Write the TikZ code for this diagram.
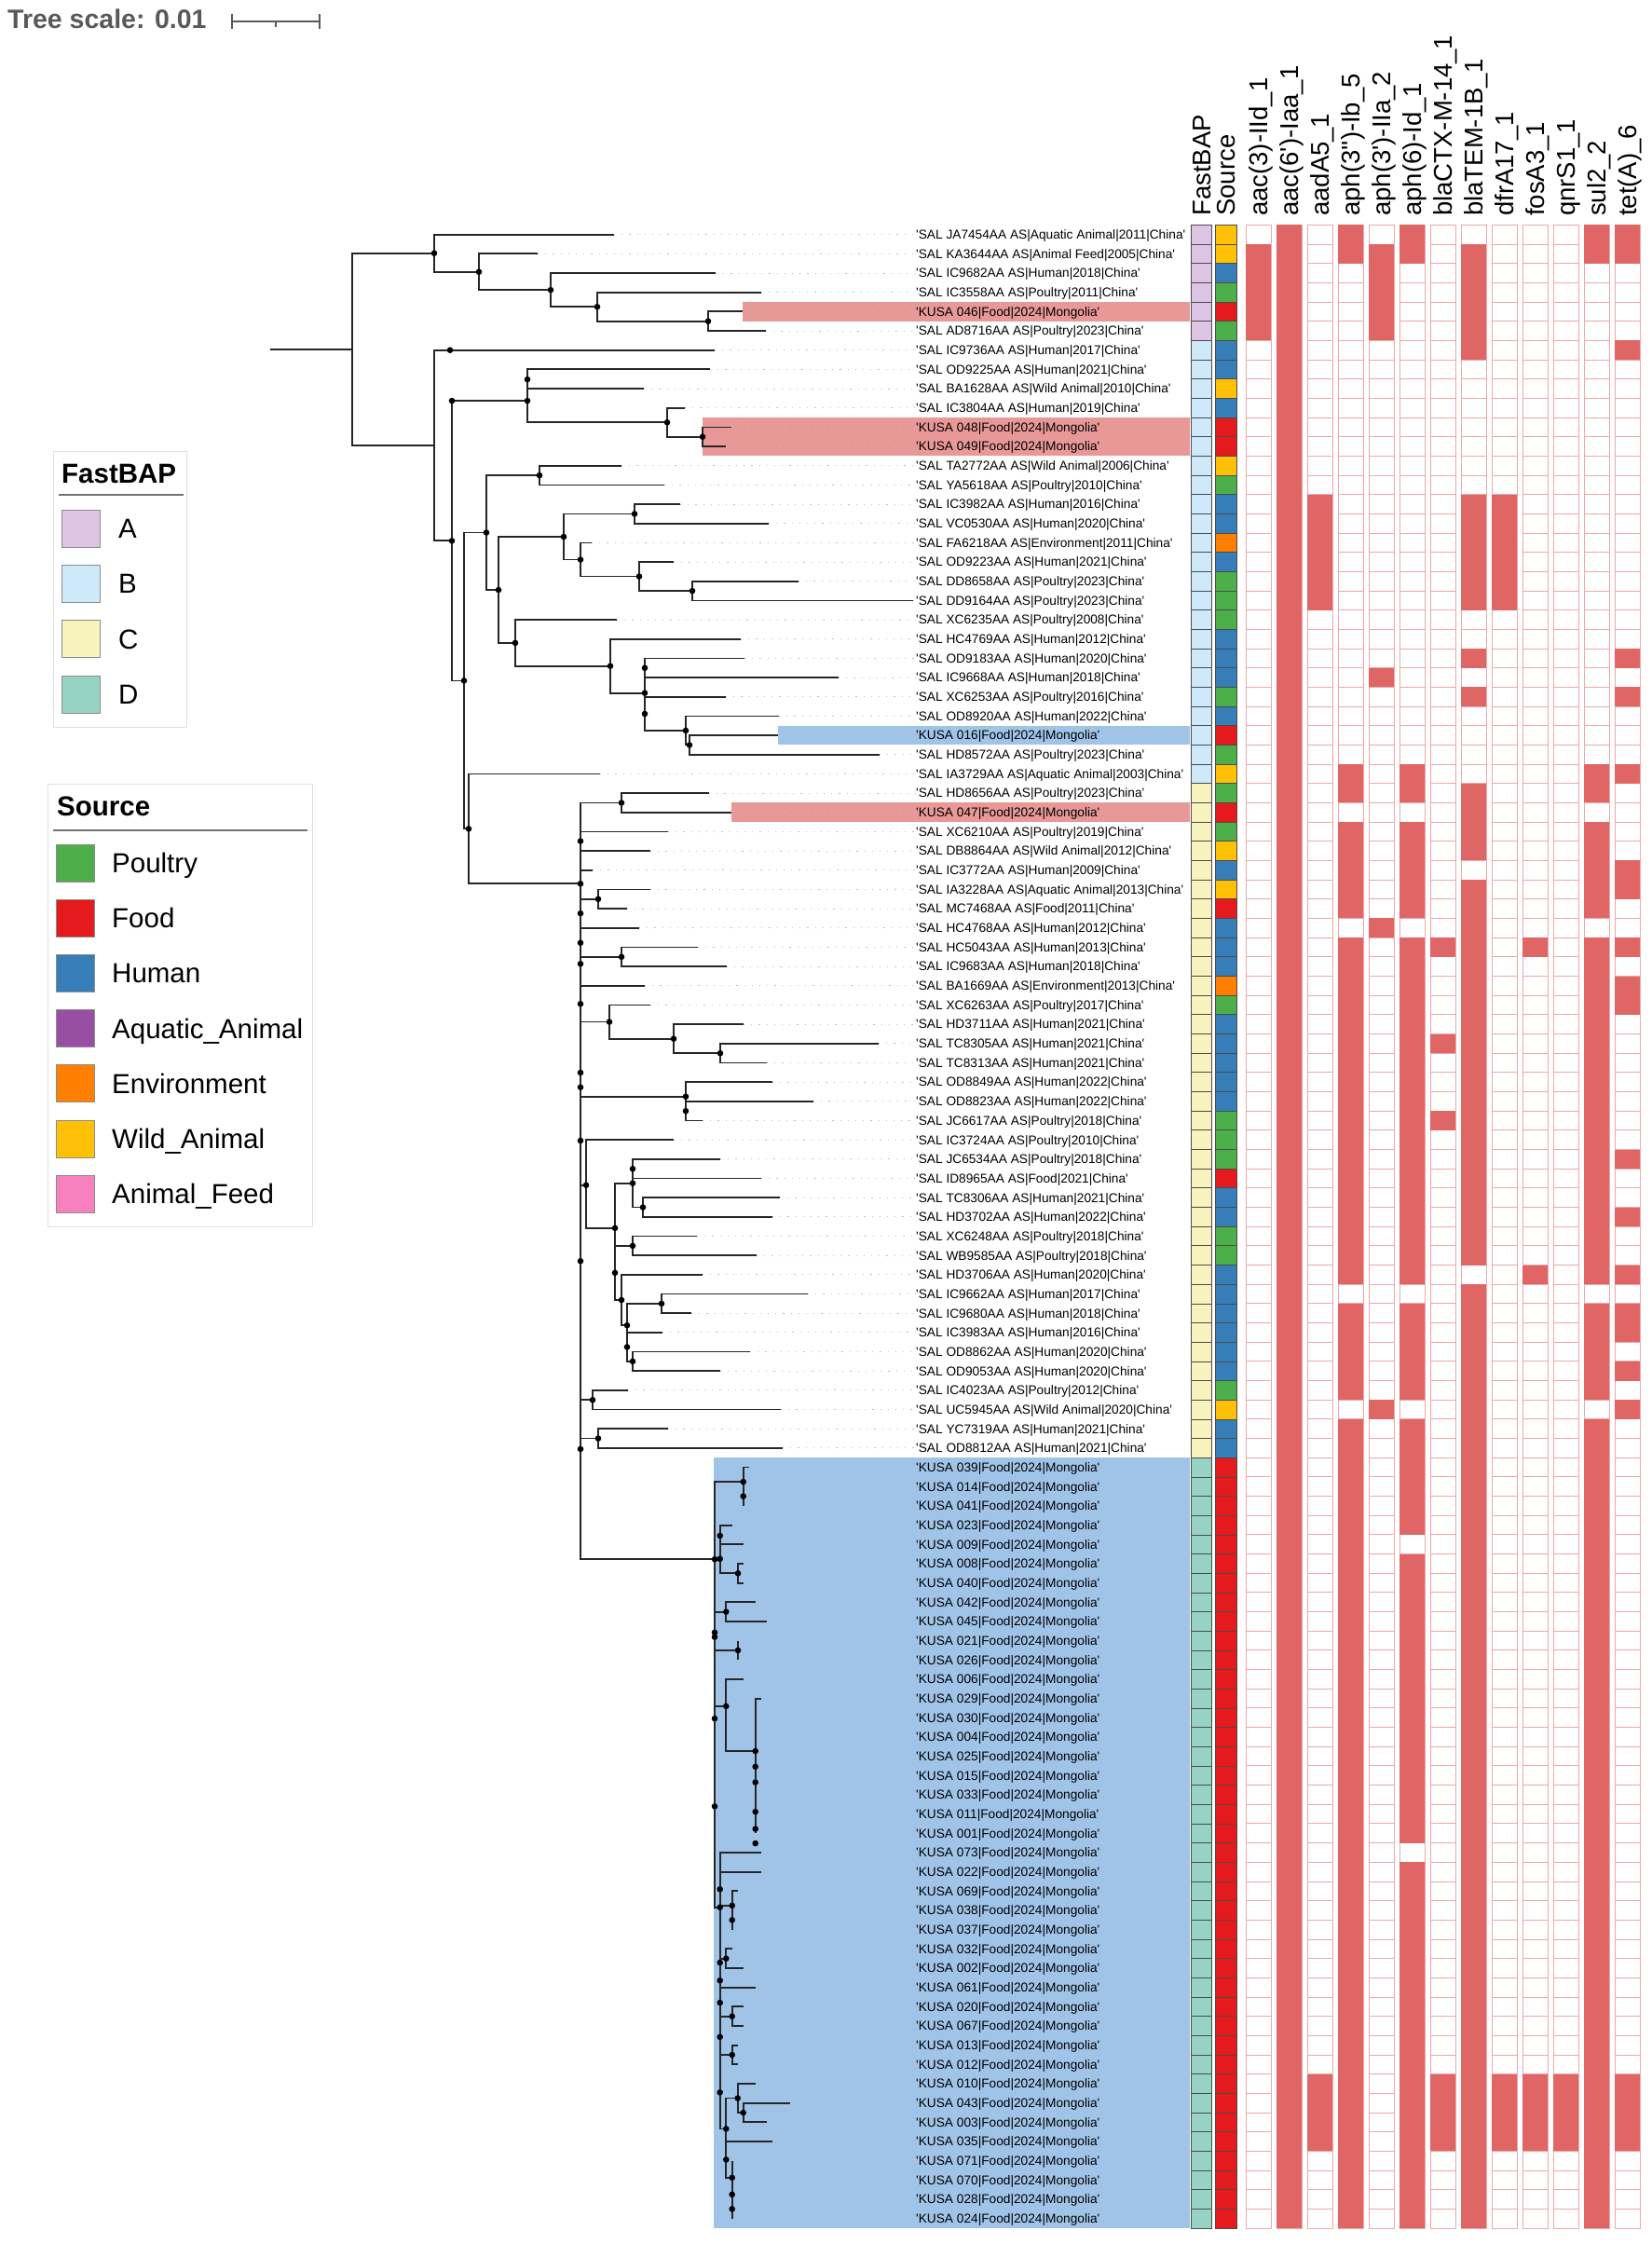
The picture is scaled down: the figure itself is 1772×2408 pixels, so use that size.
\documentclass[tikz,border=0pt]{standalone}
\usepackage{fontspec}
\setmainfont{Liberation Sans}
\newcommand\q{\textquotesingle}
% FastBAP groups
\definecolor{fbA}{RGB}{222,196,228}
\definecolor{fbB}{RGB}{206,233,250}
\definecolor{fbC}{RGB}{247,242,190}
\definecolor{fbD}{RGB}{150,211,196}
% sources
\definecolor{srcP}{RGB}{77,175,74}
\definecolor{srcF}{RGB}{228,26,28}
\definecolor{srcH}{RGB}{55,126,184}
\definecolor{srcQ}{RGB}{152,78,163}
\definecolor{srcO}{RGB}{255,127,0}
\definecolor{srcW}{RGB}{255,193,7}
\definecolor{srcA}{RGB}{247,129,191}
% heatmap and highlights
\definecolor{hmred}{RGB}{224,102,102}
\definecolor{hmline}{RGB}{236,168,168}
\definecolor{hlpink}{RGB}{233,152,152}
\definecolor{hlblue}{RGB}{160,196,232}

\begin{document}
\begin{tikzpicture}[x=1pt, y=-1pt,
  branch/.style={draw=black!85, line width=1.8pt},
  leader/.style={draw=black!25, line width=0.9pt, dash pattern=on 1.2pt off 7pt},
  cell/.style={draw=hmline, line width=1pt, fill=white},
  hit/.style={fill=hmred},
  anno/.style={draw=black!70, line width=0.8pt},
  lab/.style={anchor=base west, inner sep=0pt, yshift=-4.8pt, font=\fontsize{13.7}{16}\selectfont},
  head/.style={rotate=90, anchor=base west, inner sep=0pt, font=\fontsize{27.5}{30}\selectfont},
  legtxt/.style={anchor=base west, inner sep=0pt, font=\fontsize{29.5}{32}\selectfont},
  legtitle/.style={anchor=base west, inner sep=0pt, font=\bfseries\fontsize{29.5}{32}\selectfont},
  legbox/.style={draw=black!12, line width=1pt, fill=white},
  legsq/.style={draw=black!45, line width=0.8pt}]
\useasboundingbox (0,0) rectangle (1772,2408);
\fill[white] (0,0) rectangle (1772,2408);

% Tree scale
\node[anchor=base west, inner sep=0pt, text=black!65, font=\bfseries\fontsize{28.5}{30}\selectfont] (tscale) at (8,31) {Tree scale: 0.01};
\coordinate (sbl) at (249,23);
\coordinate (sbr) at (343,23);
\draw[black!65, line width=2pt] (sbl) -- (sbr);
\draw[black!65, line width=2pt] (249,15) -- (249,31) (343,15) -- (343,31) (296,23) -- (296,29);

% FastBAP legend
\draw[legbox] (57,484) rectangle (200,780);
\node[legtitle] (fbtitle) at (66,518) {FastBAP};
\draw[black!55, line width=1.5pt] (63,531) -- (197,531);
\foreach \g [count=\i] in {A,B,C,D} {
  \draw[legsq, fill=fb\g] (66,{487.6+59.4*\i}) rectangle +(41,40);
  \node[legtxt] (fbl\i) at (127,{518.1+59.4*\i}) {\g};
}

% Source legend
\draw[legbox] (51,841) rectangle (335,1316);
\node[legtitle] (srctitle) at (61,875) {Source};
\draw[black!55, line width=1.5pt] (57,891) -- (330,891);
\foreach \cc/\t [count=\i] in {P/Poultry, F/Food, H/Human, Q/Aquatic\_Animal, O/Environment, W/Wild\_Animal, A/Animal\_Feed} {
  \draw[legsq, fill=src\cc] (60,{846.8+59.2*\i}) rectangle +(41,40);
  \node[legtxt] (srl\i) at (120,{877.3+59.2*\i}) {\t};
}

% Column headers
\node[head] (hdfb) at (1299,232) {FastBAP};
\node[head] (hdsrc) at (1325,232) {Source};
\foreach \g [count=\i from 0] in {aac(3)-IId\_1, aac(6\q)-Iaa\_1, aadA5\_1, aph(3\q\q)-Ib\_5, aph(3\q)-IIa\_2, aph(6)-Id\_1, blaCTX-M-14\_1, blaTEM-1B\_1, dfrA17\_1, fosA3\_1, qnrS1\_1, sul2\_2, tet(A)\_6}
  \node[head] (hd\i) at ({1360.5+33*\i},232) {\g};

\begin{scope}[yshift=-231.03pt, y=-20.67pt]
% Clade highlights
\fill[hlpink] (797,4.5) rectangle (1277,5.5);
\fill[hlpink] (754,10.5) rectangle (1277,12.5);
\fill[hlblue] (835,26.5) rectangle (1277,27.5);
\fill[hlpink] (785,30.5) rectangle (1277,31.5);
\fill[hlblue] (766,64.5) rectangle (1277,104.5);

% Leaves, labels and annotation strips
\foreach \tx/\fb/\src/\lab [count=\row] in {
  659/A/W/SAL JA7454AA AS|Aquatic Animal|2011|China,
  577/A/W/SAL KA3644AA AS|Animal Feed|2005|China,
  768/A/H/SAL IC9682AA AS|Human|2018|China,
  817/A/P/SAL IC3558AA AS|Poultry|2011|China,
  797/A/F/KUSA 046|Food|2024|Mongolia,
  822/A/P/SAL AD8716AA AS|Poultry|2023|China,
  767/B/H/SAL IC9736AA AS|Human|2017|China,
  762/B/H/SAL OD9225AA AS|Human|2021|China,
  691/B/W/SAL BA1628AA AS|Wild Animal|2010|China,
  735/B/H/SAL IC3804AA AS|Human|2019|China,
  785/B/F/KUSA 048|Food|2024|Mongolia,
  779/B/F/KUSA 049|Food|2024|Mongolia,
  667/B/W/SAL TA2772AA AS|Wild Animal|2006|China,
  713/B/P/SAL YA5618AA AS|Poultry|2010|China,
  730/B/H/SAL IC3982AA AS|Human|2016|China,
  825/B/H/SAL VC0530AA AS|Human|2020|China,
  635/B/O/SAL FA6218AA AS|Environment|2011|China,
  723/B/H/SAL OD9223AA AS|Human|2021|China,
  857/B/P/SAL DD8658AA AS|Poultry|2023|China,
  980/B/P/SAL DD9164AA AS|Poultry|2023|China,
  662/B/P/SAL XC6235AA AS|Poultry|2008|China,
  795/B/H/SAL HC4769AA AS|Human|2012|China,
  799/B/H/SAL OD9183AA AS|Human|2020|China,
  900/B/H/SAL IC9668AA AS|Human|2018|China,
  779/B/P/SAL XC6253AA AS|Poultry|2016|China,
  836/B/H/SAL OD8920AA AS|Human|2022|China,
  835/B/F/KUSA 016|Food|2024|Mongolia,
  944/B/P/SAL HD8572AA AS|Poultry|2023|China,
  644/B/W/SAL IA3729AA AS|Aquatic Animal|2003|China,
  761/C/P/SAL HD8656AA AS|Poultry|2023|China,
  785/C/F/KUSA 047|Food|2024|Mongolia,
  717/C/P/SAL XC6210AA AS|Poultry|2019|China,
  698/C/W/SAL DB8864AA AS|Wild Animal|2012|China,
  636/C/H/SAL IC3772AA AS|Human|2009|China,
  698/C/W/SAL IA3228AA AS|Aquatic Animal|2013|China,
  673/C/F/SAL MC7468AA AS|Food|2011|China,
  686/C/H/SAL HC4768AA AS|Human|2012|China,
  749/C/H/SAL HC5043AA AS|Human|2013|China,
  780/C/H/SAL IC9683AA AS|Human|2018|China,
  692/C/O/SAL BA1669AA AS|Environment|2013|China,
  698/C/P/SAL XC6263AA AS|Poultry|2017|China,
  798/C/H/SAL HD3711AA AS|Human|2021|China,
  943/C/H/SAL TC8305AA AS|Human|2021|China,
  823/C/H/SAL TC8313AA AS|Human|2021|China,
  829/C/H/SAL OD8849AA AS|Human|2022|China,
  873/C/H/SAL OD8823AA AS|Human|2022|China,
  754/C/P/SAL JC6617AA AS|Poultry|2018|China,
  723/C/P/SAL IC3724AA AS|Poultry|2010|China,
  773/C/P/SAL JC6534AA AS|Poultry|2018|China,
  817/C/F/SAL ID8965AA AS|Food|2021|China,
  837/C/H/SAL TC8306AA AS|Human|2021|China,
  829/C/H/SAL HD3702AA AS|Human|2022|China,
  748/C/P/SAL XC6248AA AS|Poultry|2018|China,
  812/C/P/SAL WB9585AA AS|Poultry|2018|China,
  754/C/H/SAL HD3706AA AS|Human|2020|China,
  867/C/H/SAL IC9662AA AS|Human|2017|China,
  742/C/H/SAL IC9680AA AS|Human|2018|China,
  711/C/H/SAL IC3983AA AS|Human|2016|China,
  805/C/H/SAL OD8862AA AS|Human|2020|China,
  773/C/H/SAL OD9053AA AS|Human|2020|China,
  674/C/P/SAL IC4023AA AS|Poultry|2012|China,
  838/C/W/SAL UC5945AA AS|Wild Animal|2020|China,
  717/C/H/SAL YC7319AA AS|Human|2021|China,
  840/C/H/SAL OD8812AA AS|Human|2021|China} {
  \coordinate (l\row) at (\tx,\row);
  \coordinate (lp\row) at (983,\row);
  \draw[leader] (l\row) -- (lp\row);
  \node[lab] (lab\row) at (lp\row) {\q\lab\q};
  \draw[anno, fill=fb\fb] (1278,{\row-0.5}) rectangle (1300,{\row+0.5});
  \draw[anno, fill=src\src] (1304,{\row-0.5}) rectangle (1327,{\row+0.5});
}
\foreach \tx/\kid [count=\row from 65] in {
  804/039, 797.7/014, 797.7/041, 786/023, 798.3/009, 797.7/008, 797.7/040, 810.7/042,
  823.3/045, 792/021, 792/026, 798.3/006, 816.7/029, 810.7/030, 810.7/004, 810.7/025,
  810.7/015, 810.7/033, 810.7/011, 810.7/001, 816.7/073, 816.7/022, 791.7/069, 785.7/038,
  785.7/037, 785.7/032, 798.3/002, 810.7/061, 798.3/020, 798.3/067, 791.7/013, 791.7/012,
  810.7/010, 847.7/043, 823.3/003, 829.3/035, 785.7/071, 785.7/070, 785.7/028, 785.7/024} {
  \coordinate (l\row) at (\tx,\row);
  \coordinate (lp\row) at (983,\row);
  \draw[leader] (l\row) -- (lp\row);
  \node[lab] (lab\row) at (lp\row) {\q KUSA \kid|Food|2024|Mongolia\q};
  \draw[anno, fill=fbD] (1278,{\row-0.5}) rectangle (1300,{\row+0.5});
  \draw[anno, fill=srcF] (1304,{\row-0.5}) rectangle (1327,{\row+0.5});
}

% Internal nodes (x, row)
\foreach \n/\x/\rw in {
  a4/760/5.5, a3/641/4.75, a2/591/3.875, a1/514/2.94, a0/466/1.97,
  n1c2/754/11.5, n1c/716/10.75, n1/566/9.63,
  p13/579/13.5, r1/681/15.5, r3b/743/19.5, r3/686/18.75, r2/623/17.875, rr/605/16.69,
  w/740/27.5, v/736/26.75, u/692/24.8, t/655/23.4, s/553/22.2, q/535/19.45, p/522/16.47,
  c1/667/30.5, c5/642/35.5, c7/667/38.5, c9c/773/43.5, c9b/723/42.75, c9/654/41.875,
  c10b/736/46.5, c10/736/45.75,
  z2a3/690/51.5, z2a/679/50.25, z2b/679/53.5, nb2/679/59.5, nb/673/58.75, na1/710/56.5,
  na/673/57.625, z2c/667/56.31, z2p/660/54.9, z2/660/52.58, z/629/50.35,
  c12/636/61.5, c13/642/63.5,
  d1p/797.7/66.5, d1/797.7/65.75, d2n/792/70.5, d2/772.7/69.75, d3/779.3/72.5,
  d4/792/74.5, e/810.7/79.73, d5/779.3/77.4,
  f1p/785.7/88.5, f1/785.7/87.75, k90/779.3/90.5, k93/785.7/93.5, k95/785.7/95.5,
  g1b/797.7/98.5, g1/791.7/97.75, h3/785.7/103.5, h2/785.7/102.75, h1/785.7/101.875,
  g2/779.3/100.94, g/779.3/99.34, k/772.7/87.84,
  droot/767/69.77, spn/623/34.7, nx/503/31.85, n2/498/24.16, m/485/16.9,
  lb/466/11.95, root/378/6.96, stub/290/6.96}
  \coordinate (\n) at (\x,\rw);

% Branches
\draw[branch] (stub) -- (root);
\foreach \pa/\ch in {
  root/a0, root/lb,
  a0/l1, a0/a1, a1/l2, a1/a2, a2/l3, a2/a3, a3/l4, a3/a4, a4/l5, a4/l6,
  lb/l7, lb/m, m/n1, m/n2,
  n1/l8, n1/l9, n1/n1c, n1c/l10, n1c/n1c2, n1c2/l11, n1c2/l12,
  n2/p, n2/nx, p/p13, p/q, p13/l13, p13/l14,
  q/rr, q/s, rr/r1, rr/r2, r1/l15, r1/l16, r2/l17, r2/r3, r3/l18, r3/r3b, r3b/l19, r3b/l20,
  s/l21, s/t, t/l22, t/u, u/l23, u/l24, u/l25, u/v, v/l26, v/w, w/l27, w/l28,
  nx/l29, nx/spn,
  spn/c1, spn/l32, spn/l33, spn/l34, spn/c5, spn/l37, spn/c7, spn/l40, spn/c9, spn/c10,
  spn/z, spn/c12, spn/c13, spn/droot,
  c1/l30, c1/l31, c5/l35, c5/l36, c7/l38, c7/l39,
  c9/l41, c9/c9b, c9b/l42, c9b/c9c, c9c/l43, c9c/l44,
  c10/l45, c10/c10b, c10b/l46, c10b/l47,
  z/l48, z/z2, z2/z2a, z2/z2p, z2a/l49, z2a/l50, z2a/z2a3, z2a3/l51, z2a3/l52,
  z2p/z2b, z2p/z2c, z2b/l53, z2b/l54, z2c/l55, z2c/na, na/na1, na/nb,
  na1/l56, na1/l57, nb/l58, nb/nb2, nb2/l59, nb2/l60,
  c12/l61, c12/l62, c13/l63, c13/l64,
  droot/d1, droot/d2, droot/d3, droot/d4, droot/d5, droot/k,
  d1/l65, d1/d1p, d1p/l66, d1p/l67,
  d2/l68, d2/l69, d2/d2n, d2n/l70, d2n/l71,
  d3/l72, d3/l73, d4/l74, d4/l75, d5/l76, d5/e,
  e/l77, e/l78, e/l79, e/l80, e/l81, e/l82, e/l83, e/l84,
  k/l85, k/l86, k/f1, k/k90, k/l92, k/k93, k/k95, k/g,
  f1/l87, f1/f1p, f1p/l88, f1p/l89, k90/l90, k90/l91, k93/l93, k93/l94, k95/l95, k95/l96,
  g/g1, g/g2, g1/l97, g1/g1b, g1b/l98, g1b/l99, g2/l100, g2/h1,
  h1/l101, h1/h2, h2/l102, h2/h3, h3/l103, h3/l104}
  \draw[branch] (\pa) |- (\ch);

% Support dots
\foreach \n in {a0,a1,a2,a3,a4,m,n1,n1c,n1c2,n2,p,p13,q,rr,r1,r2,r3,r3b,s,t,u,v,w,nx,spn,
  c1,c5,c7,c9,c9b,c9c,c10,c10b,z,z2,z2a,z2a3,z2p,z2b,z2c,na,na1,nb,nb2,c12,c13,
  droot,d1,d1p,d2,d2n,d3,d4,d5,e,k,f1,f1p,k90,k93,k95,g,g1,g1b,g2,h1,h2,h3}
  \fill[black] (\n) circle (3.3pt);
\foreach \x/\rw in {483/7, 485/9.63, 566/8.52,
  623/32.49, 623/36.24, 623/37.77, 623/38.86, 623/40.94, 623/44.51, 623/45.27, 623/48.04,
  623/54.29, 623/64.05, 692/23.5, 692/25.88, 679/49.5,
  767/73.57, 767/73.81, 767/78.04, 767/82.6, 772.7/68.55,
  810.7/80.54, 810.7/81.35, 810.7/82.88, 810.7/83.77, 810.7/84.52,
  772.7/86.9, 772.7/90.71, 772.7/91.64, 772.7/92.79, 772.7/94.57, 772.7/97.45}
  \fill[black] (\x,\rw) circle (3.3pt);

% Resistance gene heatmap
\foreach \i in {0,...,12}
  \foreach \row in {1,...,104}
    \draw[cell] ({1337+33*\i},{\row-0.5}) rectangle +(27,1);
\foreach \i/\a/\b in {
  1/2/6, 2/1/104, 3/15/20, 3/97/100,
  4/1/2, 4/29/30, 4/32/36, 4/38/55, 4/57/61, 4/63/104,
  5/2/6, 5/24/24, 5/37/37, 5/62/62,
  6/1/2, 6/29/30, 6/32/36, 6/38/55, 6/57/61, 6/63/68, 6/70/84, 6/86/104,
  7/38/38, 7/43/43, 7/47/47, 7/97/100,
  8/2/7, 8/15/20, 8/23/23, 8/25/25, 8/30/33, 8/35/54, 8/56/104,
  9/15/20, 9/97/100, 10/38/38, 10/55/55, 10/97/100, 11/97/100,
  12/1/2, 12/29/30, 12/32/36, 12/38/55, 12/57/61, 12/63/104,
  13/1/2, 13/7/7, 13/23/23, 13/25/25, 13/29/29, 13/34/35, 13/38/38, 13/40/41,
  13/49/49, 13/52/52, 13/55/55, 13/57/58, 13/60/60, 13/62/62, 13/97/100}
  \fill[hit] ({1337+33*(\i-1)},{\a-0.5}) rectangle +(27,{\b-\a+1});
\end{scope}
\end{tikzpicture}
\end{document}
